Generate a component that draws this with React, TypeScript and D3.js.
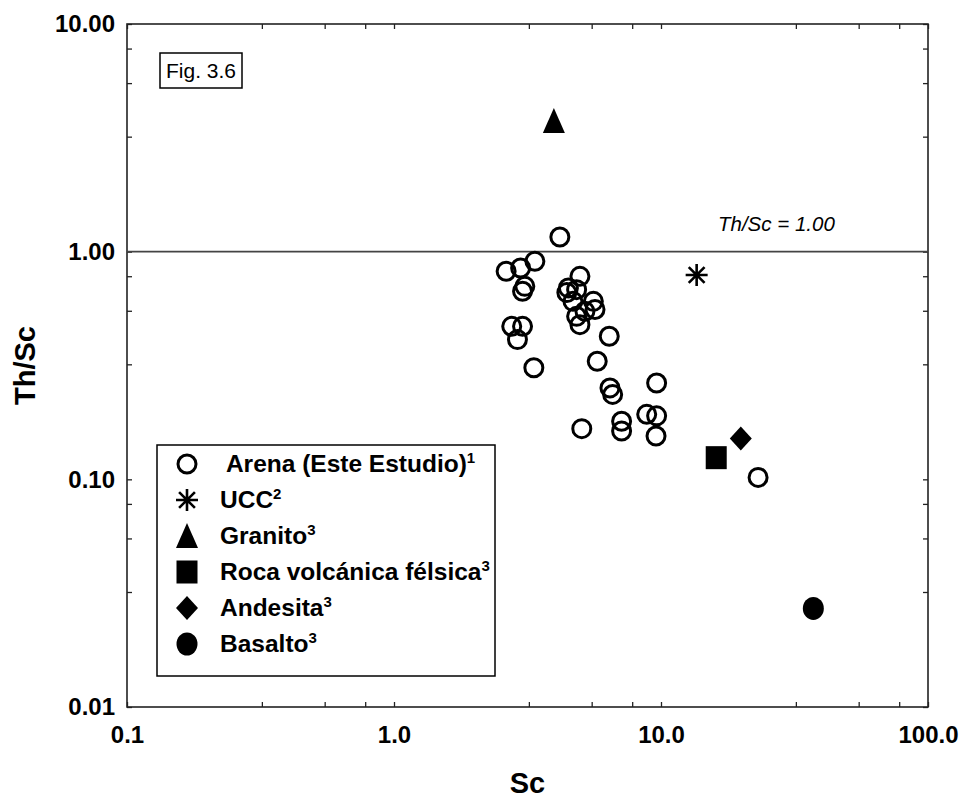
import { useEffect, useRef } from 'react'
import * as d3 from 'd3'

// Arena (this study) samples: Sc vs Th/Sc
const arenaSc = [
  4.18, 2.63, 2.98, 3.37, 3.09, 3.03, 4.97, 4.50, 4.44, 4.83, 4.68, 5.58, 5.66, 5.19, 4.83, 4.97,
  2.76, 3.03, 2.90, 3.34, 6.40, 5.77, 6.44, 6.59, 9.63, 5.05, 7.12, 7.12, 8.84, 9.63, 9.58, 23.1,
]
const arenaThSc = [
  1.16, 0.82, 0.848, 0.907, 0.704, 0.67, 0.779, 0.693, 0.661, 0.681, 0.605, 0.605, 0.557, 0.547, 0.52, 0.478,
  0.47, 0.47, 0.411, 0.309, 0.425, 0.33, 0.252, 0.236, 0.265, 0.167, 0.18, 0.163, 0.193, 0.19, 0.155, 0.102,
]

// reference compositions
const uccPoint = [13.6, 0.79]
const granitoPoint = [3.97, 3.75]
const rocaPoint = [16.1, 0.1245]
const andesitaPoint = [19.9, 0.151]
const basaltoPoint = [37.2, 0.0271]

const xMajor = [0.1, 1, 10, 100]
const xMajorLabels = ['0.1', '1.0', '10.0', '100.0']
const xMinor = [0.32, 0.55, 0.78, 3.2, 5.5, 7.8, 32, 55, 78]
const yMajor = [0.01, 0.1, 1, 10]
const yMajorLabels = ['0.01', '0.10', '1.00', '10.00']
const yMinor = [0.032, 0.055, 0.078, 0.32, 0.55, 0.78, 3.2, 5.5, 7.8]

const legendItems = [
  { key: 'arena', label: ' Arena (Este Estudio)', sup: '1' },
  { key: 'ucc', label: 'UCC', sup: '2' },
  { key: 'granito', label: 'Granito', sup: '3' },
  { key: 'roca', label: 'Roca volcánica félsica', sup: '3' },
  { key: 'andesita', label: 'Andesita', sup: '3' },
  { key: 'basalto', label: 'Basalto', sup: '3' },
]

const FONT = '"Liberation Sans", Arial, Helvetica, sans-serif'

function drawSymbol(g: any, kind: string, cx: number, cy: number) {
  const s = g.append('g').attr('transform', `translate(${cx},${cy})`)
  if (kind === 'arena') {
    s.append('circle').attr('r', 9).attr('fill', 'none').attr('stroke', '#000').attr('stroke-width', 3)
  } else if (kind === 'ucc') {
    const a = 11
    const d = a * 0.72
    s.append('path')
      .attr('d', `M0,${-a}V${a}M${-a},0H${a}M${-d},${-d}L${d},${d}M${d},${-d}L${-d},${d}`)
      .attr('stroke', '#000').attr('stroke-width', 2.6).attr('fill', 'none')
  } else if (kind === 'granito') {
    s.append('path').attr('d', 'M0,-13L11,12L-11,12Z').attr('fill', '#000')
  } else if (kind === 'roca') {
    s.append('rect').attr('x', -10.5).attr('y', -11.5).attr('width', 21).attr('height', 23).attr('fill', '#000')
  } else if (kind === 'andesita') {
    s.append('path').attr('d', 'M0,-12L11,0L0,12L-11,0Z').attr('fill', '#000')
  } else if (kind === 'basalto') {
    s.append('ellipse').attr('rx', 10.5).attr('ry', 11.5).attr('fill', '#000')
  }
}

export default function App() {
  const svgRef = useRef<SVGSVGElement>(null)

  useEffect(() => {
    if (!svgRef.current) return
    const el = svgRef.current
    const width = 965
    const height = 800
    const left = 127, right = 928, top = 24, bottom = 707

    d3.select(el).selectAll('*').remove()
    const svg = d3.select(el).attr('width', width).attr('height', height)

    svg.append('rect').attr('width', width).attr('height', height).attr('fill', '#fff')

    const x = d3.scaleLog().domain([0.1, 100]).range([left, right])
    const y = d3.scaleLog().domain([0.01, 10]).range([bottom, top])

    const xTicks = [...xMajor, ...xMinor]
    const yTicks = [...yMajor, ...yMinor]
    const xFmt = (d: number) => { const i = xMajor.indexOf(d); return i >= 0 ? xMajorLabels[i] : '' }
    const yFmt = (d: number) => { const i = yMajor.indexOf(d); return i >= 0 ? yMajorLabels[i] : '' }

    const styleAxis = (ax: any) => {
      ax.select('.domain').remove()
      ax.selectAll('line').attr('stroke', '#222').attr('stroke-width', 1.3)
      ax.selectAll('text')
        .attr('fill', '#000')
        .style('font-family', FONT)
        .style('font-size', '24px')
        .style('font-weight', 'bold')
    }

    // bottom axis
    svg.append('g')
      .attr('transform', `translate(0,${bottom})`)
      .call(d3.axisBottom(x).tickValues(xTicks).tickFormat(xFmt as any).tickSize(-5).tickPadding(19))
      .call(styleAxis)
    // top axis
    svg.append('g')
      .attr('transform', `translate(0,${top})`)
      .call(d3.axisTop(x).tickValues(xTicks).tickFormat(() => '').tickSize(-5))
      .call(styleAxis)
    // left axis
    svg.append('g')
      .attr('transform', `translate(${left},0)`)
      .call(d3.axisLeft(y).tickValues(yTicks).tickFormat(yFmt as any).tickSize(-5).tickPadding(12))
      .call(styleAxis)
    // right axis
    svg.append('g')
      .attr('transform', `translate(${right},0)`)
      .call(d3.axisRight(y).tickValues(yTicks).tickFormat(() => '').tickSize(-5))
      .call(styleAxis)

    // frame
    svg.append('rect')
      .attr('x', left).attr('y', top).attr('width', right - left).attr('height', bottom - top)
      .attr('fill', 'none').attr('stroke', '#222').attr('stroke-width', 1.6)

    // Th/Sc = 1 reference line
    svg.append('line')
      .attr('x1', left).attr('x2', right).attr('y1', y(1)).attr('y2', y(1))
      .attr('stroke', '#444').attr('stroke-width', 1.6)
    svg.append('text')
      .attr('x', 718).attr('y', y(1) - 21)
      .style('font-family', FONT).style('font-size', '20.5px').style('font-style', 'italic')
      .text('Th/Sc = 1.00')

    // axis titles
    svg.append('text')
      .attr('x', (left + right) / 2).attr('y', 793)
      .attr('text-anchor', 'middle')
      .style('font-family', FONT).style('font-size', '29px').style('font-weight', 'bold')
      .text('Sc')
    svg.append('text')
      .attr('transform', `translate(35,${(y(1) + y(0.1)) / 2}) rotate(-90)`)
      .attr('text-anchor', 'middle')
      .style('font-family', FONT).style('font-size', '29px').style('font-weight', 'bold')
      .text('Th/Sc')

    // figure tag
    svg.append('rect').attr('x', 160).attr('y', 53).attr('width', 82).attr('height', 35)
      .attr('fill', '#fff').attr('stroke', '#000').attr('stroke-width', 1.5)
    svg.append('text').attr('x', 166).attr('y', 78)
      .style('font-family', FONT).style('font-size', '21px')
      .text('Fig. 3.6')

    // data
    const pts = svg.append('g')
    arenaSc.forEach((sc, i) => drawSymbol(pts, 'arena', x(sc), y(arenaThSc[i])))
    drawSymbol(pts, 'ucc', x(uccPoint[0]), y(uccPoint[1]))
    drawSymbol(pts, 'granito', x(granitoPoint[0]), y(granitoPoint[1]))
    drawSymbol(pts, 'roca', x(rocaPoint[0]), y(rocaPoint[1]))
    drawSymbol(pts, 'andesita', x(andesitaPoint[0]), y(andesitaPoint[1]))
    drawSymbol(pts, 'basalto', x(basaltoPoint[0]), y(basaltoPoint[1]))

    // legend
    const lg = svg.append('g')
    lg.append('rect').attr('x', 157).attr('y', 445).attr('width', 338).attr('height', 231)
      .attr('fill', '#fff').attr('stroke', '#000').attr('stroke-width', 1.5)
    legendItems.forEach((it, i) => {
      const cy = 464 + i * 36
      drawSymbol(lg, it.key, 187, cy)
      const t = lg.append('text')
        .attr('x', 220).attr('y', cy + 8)
        .style('font-family', FONT).style('font-size', '24.5px').style('font-weight', 'bold')
        .style('white-space', 'pre')
        .attr('xml:space', 'preserve')
      t.append('tspan').text(it.label)
      t.append('tspan').attr('dy', -9).style('font-size', '15px').text(it.sup)
    })
  }, [])

  return (
    <svg ref={svgRef} width={965} height={800} style={{ position: 'absolute', left: 0, top: 0 }} />
  )
}
